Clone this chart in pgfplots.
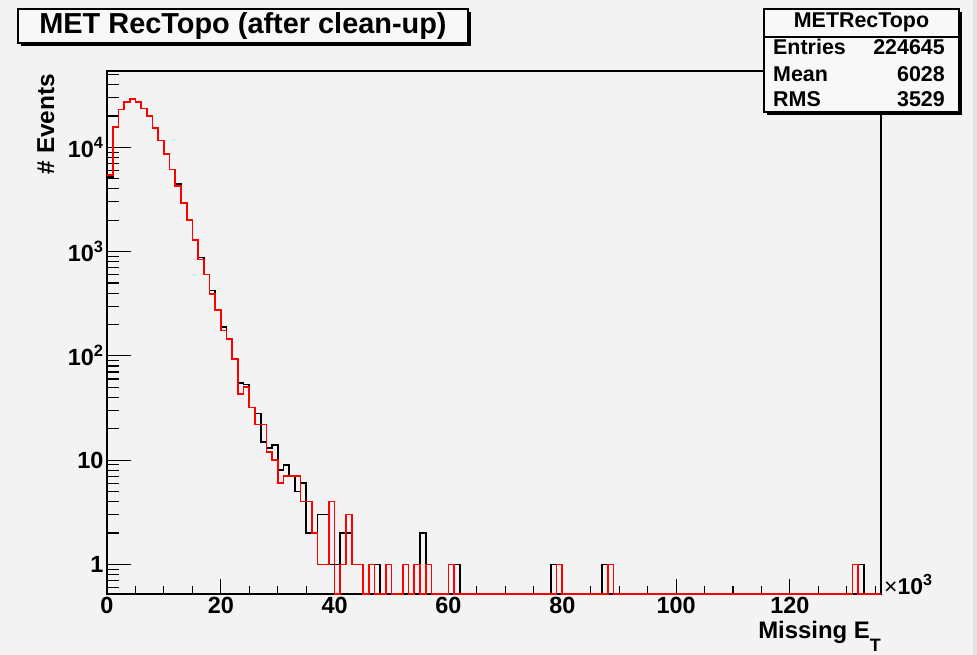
\documentclass[border=0pt]{standalone}
\usepackage{fontspec}
\setmainfont{Liberation Sans}
\usepackage{pgfplots}
\pgfplotsset{compat=1.18}
\usepackage{pgfplotstable}
\usetikzlibrary{backgrounds}
\definecolor{canvas}{HTML}{F3F3F3}
\definecolor{boxfill}{HTML}{F8F8F8}
\definecolor{rootred}{HTML}{FF0000}

% bin lower edge (x 10^3), counts; empty bins sit on the axis floor (0.52)
\pgfplotstableread{
bin black red
0 5230 5430
1 15700 15700
2 23100 23100
3 27400 27400
4 29000 29000
5 27400 27400
6 23600 23600
7 20100 20100
8 15400 15400
9 11600 11600
10 8570 8570
11 6150 6150
12 4420 4290
13 2910 2910
14 2010 2010
15 1290 1290
16 880 840
17 605 605
18 425 395
19 275 275
20 190 175
21 145 145
22 94 94
23 55 43
24 53 50
25 32 32
26 28 22
27 15 22
28 13 12
29 14 10
30 8 6
31 9 7
32 7 7
33 5 7
34 6 4
35 2 4
36 2 2
37 3 1
38 3 1
39 1 4
40 1 0.52
41 2 1
42 2 3
43 1 1
44 1 1
45 0.52 0.52
46 0.52 1
47 1 0.52
48 0.52 0.52
49 0.52 1
50 0.52 0.52
52 0.52 1
53 0.52 0.52
54 0.52 1
55 2 0.52
56 0.52 1
57 0.52 0.52
60 0.52 1
61 1 0.52
62 0.52 0.52
78 1 0.52
79 0.52 1
80 0.52 0.52
87 1 0.52
88 0.52 1
89 0.52 0.52
131 0.52 1
132 1 0.52
133 0.52 0.52
136 0.52 0.52
}\methist

\begin{document}
\begin{tikzpicture}
\begin{axis}[
  at={(0,0)}, anchor=south west,
  scale only axis, width=774bp, height=523bp,
  xmin=0, xmax=136,
  ymode=log, ymin=0.52, ymax=54000,
  clip=false,
  tick pos=left, tick align=inside,
  xtick={0,20,40,60,80,100,120},
  minor xtick={5,10,15,25,30,35,45,50,55,65,70,75,85,90,95,105,110,115,125,130,135},
  ytick={1,10,100,1000,10000},
  yticklabels={1,10,10\textsuperscript{2},10\textsuperscript{3},10\textsuperscript{4}},
  minor ytick={0.6,0.7,0.8,0.9,2,3,4,5,6,7,8,9,20,30,40,50,60,70,80,90,200,300,400,500,600,700,800,900,2000,3000,4000,5000,6000,7000,8000,9000,20000,30000,40000,50000},
  major tick length=15bp, minor tick length=8bp,
  ytick style={/pgfplots/major tick length=24bp, /pgfplots/minor tick length=12bp},
  tick style={black, line width=1.1bp},
  axis line style={black, line width=1.4bp},
  /pgf/number format/assume math mode=true,
  ticklabel style={font=\fontsize{23.5}{23.5}\selectfont\bfseries},
  xlabel={Missing E\raisebox{-13bp}{\fontsize{18}{18}\selectfont T}},
  xlabel style={at={(axis description cs:1,0)}, anchor=north east,
    inner sep=0pt, yshift=-27bp, font=\fontsize{24}{24}\selectfont\bfseries},
  ylabel={\# Events},
  ylabel style={at={(axis description cs:-0.079,0.995)}, anchor=east,
    inner sep=0pt, font=\fontsize{24.5}{24.5}\selectfont\bfseries},
]
\addplot[const plot, black, line width=1.7bp] table[x=bin, y=black] {\methist};
\addplot[const plot, rootred, line width=1.7bp] table[x=bin, y=red] {\methist};
\end{axis}

\begin{scope}[on background layer]
  \fill[canvas] (-107bp,-61bp) rectangle (870bp,594bp);
  \fill[gray!22] (866bp,-61bp) rectangle (870bp,594bp);
\end{scope}

% title box
\fill[black] (-86bp,548bp) rectangle (364bp,582bp);
\draw[fill=boxfill, line width=1.1bp] (-89bp,551bp) rectangle (361bp,585bp);
\node[anchor=base, inner sep=0pt] at (136bp,560bp)
  {\fontsize{29}{29}\selectfont\bfseries MET RecTopo (after clean-up)};

% stats box
\fill[black] (660bp,479bp) rectangle (855bp,582bp);
\draw[fill=boxfill, line width=1.1bp] (657bp,482bp) rectangle (852bp,585bp);
\draw[line width=1.1bp] (657bp,557bp) -- (852bp,557bp);
\begin{scope}[every node/.style={inner sep=0pt, font=\fontsize{21.5}{21.5}\selectfont\bfseries}]
  \node[anchor=base] at (754.5bp,566bp) {METRecTopo};
  \node[anchor=base west] at (666bp,539bp) {Entries};
  \node[anchor=base east] at (838bp,539bp) {224645};
  \node[anchor=base west] at (666bp,512.5bp) {Mean};
  \node[anchor=base east] at (838bp,512.5bp) {6028};
  \node[anchor=base west] at (666bp,487.5bp) {RMS};
  \node[anchor=base east] at (838bp,487.5bp) {3529};
\end{scope}

% axis multiplier
\node[anchor=base west, inner sep=0pt] at (777bp,0bp)
  {\fontsize{23}{23}\selectfont ×\textbf{10}\textsuperscript{\textbf{3}}};

\pgfresetboundingbox
\useasboundingbox (-107bp,-61bp) rectangle (870bp,594bp);
\end{tikzpicture}
\end{document}
